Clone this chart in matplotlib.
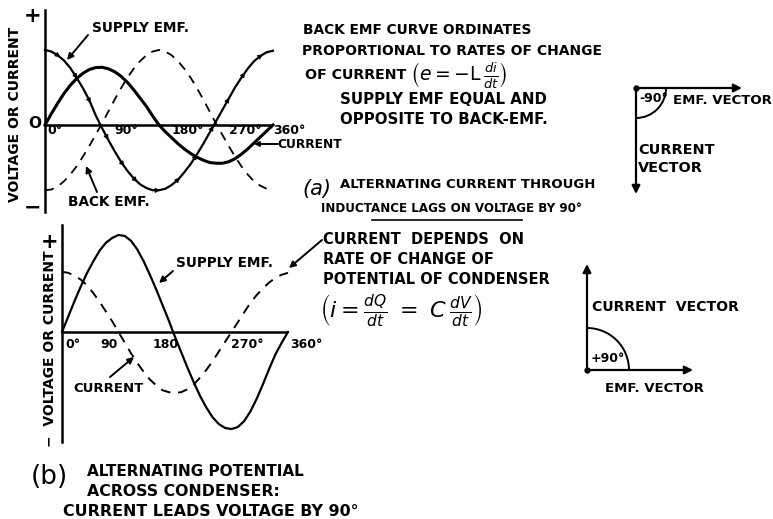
import numpy as np
import matplotlib
matplotlib.use('Agg')
import matplotlib.pyplot as plt
from matplotlib.patches import Arc

plt.rcParams['font.family'] = 'DejaVu Sans'
plt.rcParams['mathtext.fontset'] = 'dejavusans'

# phase angle, degrees
deg = list(range(0, 361, 10))

# (a) inductance: supply emf, back emf, current
supply_a = [1.00, 0.98, 0.93, 0.86, 0.76, 0.63, 0.49, 0.33, 0.13, -0.04, -0.20, -0.35, -0.49,
            -0.61, -0.71, -0.79, -0.84, -0.87, -0.87, -0.85, -0.80, -0.73, -0.63, -0.52, -0.39,
            -0.25, -0.10, 0.05, 0.20, 0.35, 0.50, 0.63, 0.75, 0.85, 0.92, 0.97, 0.99]
back_emf_a = [-0.87, -0.86, -0.82, -0.75, -0.66, -0.55, -0.42, -0.28, -0.13, 0.02, 0.18, 0.34, 0.49,
              0.63, 0.75, 0.85, 0.93, 0.98, 1.00, 0.98, 0.93, 0.85, 0.75, 0.63, 0.49,
              0.34, 0.18, 0.02, -0.13, -0.28, -0.42, -0.55, -0.66, -0.75, -0.81, -0.85, -0.86]
current_a = [0.00, 0.15, 0.29, 0.42, 0.53, 0.62, 0.69, 0.74, 0.765, 0.77, 0.75, 0.71, 0.65,
             0.57, 0.47, 0.36, 0.25, 0.12, 0.00, -0.09, -0.17, -0.25, -0.32, -0.38, -0.43,
             -0.47, -0.50, -0.51, -0.51, -0.49, -0.45, -0.39, -0.32, -0.24, -0.16, -0.08, 0.00]
supply_a_marks = [24, 51, 72, 100, 125, 146, 182, 213, 240, 266, 291, 316, 344]

# (b) condenser: supply emf, current
supply_b = [0.00, 0.16, 0.32, 0.47, 0.61, 0.73, 0.84, 0.92, 0.97, 1.00, 0.99, 0.94, 0.85,
            0.73, 0.59, 0.44, 0.28, 0.12, -0.05, -0.21, -0.37, -0.52, -0.66, -0.78, -0.88,
            -0.95, -0.99, -1.00, -0.98, -0.92, -0.82, -0.69, -0.54, -0.38, -0.23, -0.11, 0.00]
current_b = [0.62, 0.61, 0.58, 0.54, 0.48, 0.40, 0.31, 0.21, 0.11, 0.00, -0.11, -0.22, -0.32,
             -0.41, -0.49, -0.55, -0.60, -0.62, -0.63, -0.62, -0.59, -0.54, -0.47, -0.39, -0.30,
             -0.20, -0.10, 0.00, 0.10, 0.20, 0.30, 0.38, 0.45, 0.51, 0.56, 0.59, 0.61]

tick_labels_a = ['0°', '90°', '180°', '270°', '360°']
tick_labels_b = ['0°', '90', '180', '270°', '360°']

# vector diagrams: phase of emf and current vectors
vectors_a = {'emf': 0, 'current': -90}
vectors_b = {'emf': 0, 'current': 90}

W, H = 773, 519
fig = plt.figure(figsize=(W / 100, H / 100), dpi=100)


def box(x0, x1, ytop, ybot):
    return [x0 / W, 1 - ybot / H, (x1 - x0) / W, (ybot - ytop) / H]


def wave_axes(rect, zero_px, unit_px, ytop, ybot):
    ax = fig.add_axes(rect)
    ax.set_xlim(0, 360)
    ax.set_ylim(-(ybot - zero_px) / unit_px, (zero_px - ytop) / unit_px)
    for s in ['top', 'right', 'bottom']:
        ax.spines[s].set_visible(False)
    ax.spines['left'].set_linewidth(1.8)
    ax.set_xticks([])
    ax.set_yticks([])
    ax.patch.set_alpha(0)
    ax.axhline(0, color='k', lw=1.8)
    return ax


# ---- (a) current through inductance
ax_a = wave_axes(box(45, 273, 10, 212), 125, 75, 10, 212)
ax_a.plot(deg, supply_a, color='k', lw=1.6, clip_on=False)
ax_a.plot(deg, back_emf_a, color='k', lw=1.3, dashes=(5, 4), clip_on=False)
ax_a.plot(deg, current_a, color='k', lw=2.2, clip_on=False)
for d in supply_a_marks:
    y1 = np.interp(d, deg, supply_a)
    y0 = np.interp(d - 5, deg, supply_a)
    ax_a.annotate('', xy=(d, y1), xytext=(d - 5, y0),
                  arrowprops=dict(arrowstyle='-|>', color='k', lw=0.8, mutation_scale=7,
                                  shrinkA=0, shrinkB=0))

# ---- (b) potential across condenser
ax_b = wave_axes(box(62, 288, 225, 442), 332, 97, 225, 442)
ax_b.plot(deg, supply_b, color='k', lw=1.6, clip_on=False)
ax_b.plot(deg, current_b, color='k', lw=1.4, dashes=(5, 4), clip_on=False)

# ---- overlay in pixel units for lettering and vector diagrams
ov = fig.add_axes([0, 0, 1, 1], zorder=5)
ov.set_xlim(0, W)
ov.set_ylim(H, 0)
ov.axis('off')
ov.patch.set_alpha(0)


def say(x, y, s, size=10, weight='bold', **kw):
    kw.setdefault('ha', 'left')
    kw.setdefault('va', 'center')
    ov.text(x, y, s, fontsize=size, fontweight=weight, **kw)


def pointer(tail, head, lw=1.4, ms=9):
    ov.annotate('', xy=head, xytext=tail,
                arrowprops=dict(arrowstyle='-|>', color='k', lw=lw, mutation_scale=ms,
                                shrinkA=0, shrinkB=0))


# axis lettering (a)
say(33, 16, '+', size=15, ha='center')
say(35, 124, 'O', size=11, ha='center')
say(33, 208, '−', size=15, ha='center')
say(15, 114, 'VOLTAGE OR CURRENT', size=10, rotation=90, ha='center')
for lab, x in zip(tick_labels_a, [47, 114, 172, 229, 273]):
    say(x, 130, lab, size=9)

say(92, 28, 'SUPPLY EMF.', size=9.8)
pointer((88, 35), (67, 60))
say(68, 202, 'BACK EMF.', size=9.8)
pointer((97, 192), (86, 166))
say(277, 144, 'CURRENT', size=8.8)
pointer((278, 144), (254, 144), ms=7)

say(303, 30, 'BACK EMF CURVE ORDINATES', size=9.9)
say(302, 51, 'PROPORTIONAL TO RATES OF CHANGE', size=10)
say(305, 75, 'OF CURRENT', size=10.2)
say(410, 76, r'$\left(e = -\mathrm{L}\,\frac{di}{dt}\right)$', size=13.5, weight='normal')
say(340, 99, 'SUPPLY EMF EQUAL AND', size=10.8)
say(340, 120, 'OPPOSITE TO BACK-EMF.', size=10.8)
say(302, 189, '(a)', size=15, weight='normal', style='italic')
say(340, 185, 'ALTERNATING CURRENT THROUGH', size=9.5)
say(321, 209, 'INDUCTANCE LAGS ON VOLTAGE BY 90°', size=8.6)
ov.plot([372, 522], [220, 220], color='k', lw=1.2)

# vector diagram (a)
ox, oy, L = 636, 88, 106
for ang in vectors_a.values():
    pointer((ox, oy), (ox + L * np.cos(np.radians(ang)), oy - L * np.sin(np.radians(ang))), lw=1.6, ms=12)
ov.plot([ox], [oy], 'o', color='k', ms=3.5)
ov.add_patch(Arc((ox, oy), 60, 60, theta1=0, theta2=-vectors_a['current'], color='k', lw=1.4))
say(639, 99, '-90°', size=9)
say(673, 100, 'EMF. VECTOR', size=9.5)
say(638, 150, 'CURRENT', size=10.4)
say(638, 168, 'VECTOR', size=10.4)

# axis lettering (b)
say(50, 242, '+', size=15, ha='center')
say(50, 349, '−  VOLTAGE OR CURRENT', size=10, rotation=90, ha='center')
for lab, x in zip(tick_labels_b, [65, 100, 153, 231, 290]):
    say(x, 344, lab, size=9)

say(176, 263, 'SUPPLY EMF.', size=9.8)
pointer((173, 271), (159, 283))
say(73, 388, 'CURRENT', size=9.5)
pointer((110, 377), (134, 357))
pointer((322, 240), (289, 268))

say(323, 239, 'CURRENT  DEPENDS  ON', size=10.5)
say(323, 259, 'RATE OF CHANGE OF', size=10.5)
say(323, 280, 'POTENTIAL OF CONDENSER', size=10.5)
say(320, 311, r'$\left(i = \frac{dQ}{dt}\ =\ C\,\frac{dV}{dt}\right)$', size=16, weight='normal')

# vector diagram (b)
ox, oy, L = 587, 370, 106
for ang in vectors_b.values():
    pointer((ox, oy), (ox + L * np.cos(np.radians(ang)), oy - L * np.sin(np.radians(ang))), lw=1.6, ms=12)
ov.plot([ox], [oy], 'o', color='k', ms=3.5)
ov.add_patch(Arc((ox, oy), 84, 84, theta1=-vectors_b['current'], theta2=0, color='k', lw=1.4))
say(591, 358, '+90°', size=9)
say(592, 307, 'CURRENT  VECTOR', size=10.1)
say(605, 388, 'EMF. VECTOR', size=9.5)

# caption (b)
say(31, 477, '(b)', size=19, weight='normal')
say(87, 472, 'ALTERNATING POTENTIAL', size=11)
say(87, 492, 'ACROSS CONDENSER:', size=11.3)
say(63, 512, 'CURRENT LEADS VOLTAGE BY 90°', size=11.4)

fig.savefig('out.png', dpi=100, facecolor='white')
